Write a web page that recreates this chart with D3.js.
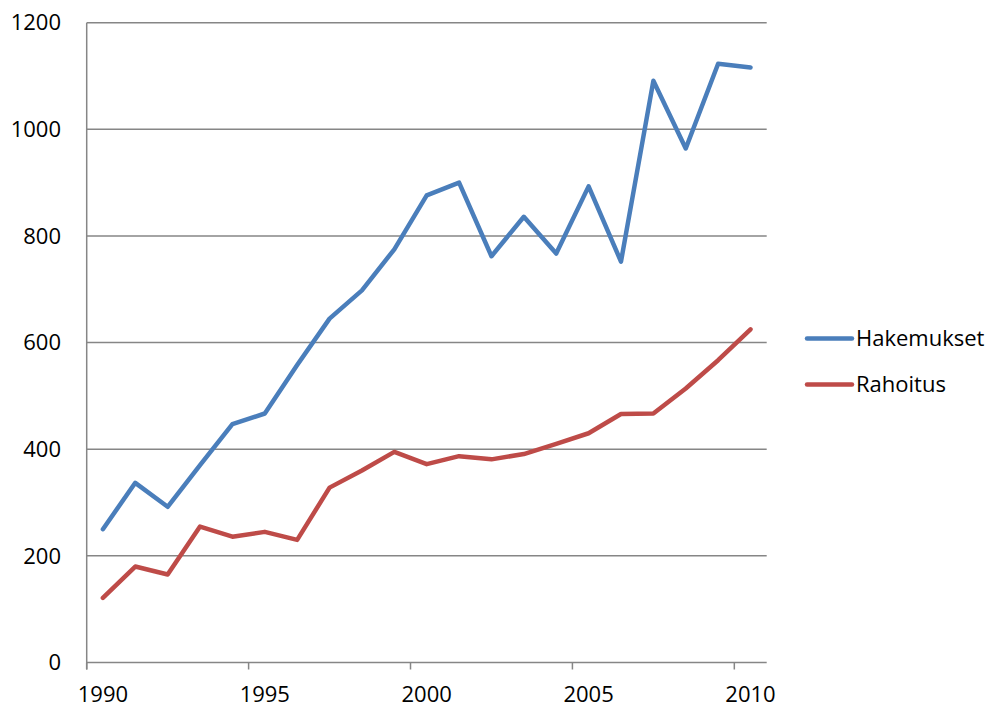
<!DOCTYPE html>
<html>
<head>
<meta charset="utf-8">
<script src="https://cdn.jsdelivr.net/npm/d3@7"></script>
<style>
  body { margin: 0; background: #fff; }
  text { font-family: "Open Sans", "Liberation Sans", sans-serif; fill: #000; }
</style>
</head>
<body>
<svg width="994" height="709"></svg>
<script>
var years = d3.range(1990, 2011);
var hakemukset = [250, 337, 292, 370, 447, 467, 558, 645, 698, 775, 876, 900, 762, 836, 767, 893, 752, 1091, 964, 1123, 1116];
var rahoitus = [121, 180, 165, 255, 236, 245, 230, 328, 360, 395, 372, 387, 381, 391, 410, 430, 466, 467, 514, 567, 625];
var yTicks = [0, 200, 400, 600, 800, 1000, 1200];
var xLabels = [1990, 1995, 2000, 2005, 2010];

var series = [
  { name: "Hakemukset", values: hakemukset, color: "#4a7ebb" },
  { name: "Rahoitus", values: rahoitus, color: "#be4b48" }
];

var svg = d3.select("svg");
var gridColor = "#868686";

var x = d3.scaleBand()
  .domain(years)
  .range([86.7, 766.7])
  .padding(0);

var y = d3.scaleLinear()
  .domain([0, 1200])
  .range([662.5, 22.7]);

var cx = function(yr) { return x(yr) + x.bandwidth() / 2; };

// horizontal gridlines
svg.append("g")
  .selectAll("line")
  .data(yTicks)
  .enter()
  .append("line")
  .attr("x1", x.range()[0])
  .attr("x2", x.range()[1])
  .attr("y1", function(d) { return y(d); })
  .attr("y2", function(d) { return y(d); })
  .attr("stroke", gridColor)
  .attr("stroke-width", 1.5);

// y axis line
svg.append("line")
  .attr("x1", x.range()[0]).attr("x2", x.range()[0])
  .attr("y1", y(1200)).attr("y2", y(0) + 7)
  .attr("stroke", gridColor)
  .attr("stroke-width", 1.5);

// y labels
svg.append("g")
  .selectAll("text")
  .data(yTicks)
  .enter()
  .append("text")
  .attr("x", 61)
  .attr("y", function(d) { return y(d); })
  .attr("dy", "0.35em")
  .attr("text-anchor", "end")
  .style("font-size", "22px")
  .text(function(d) { return d; });

// x ticks at category boundaries
svg.append("g")
  .selectAll("line")
  .data(xLabels)
  .enter()
  .append("line")
  .attr("x1", function(d) { return x(d); })
  .attr("x2", function(d) { return x(d); })
  .attr("y1", y(0))
  .attr("y2", y(0) + 7)
  .attr("stroke", gridColor)
  .attr("stroke-width", 1.5);

// x labels
svg.append("g")
  .selectAll("text")
  .data(xLabels)
  .enter()
  .append("text")
  .attr("x", function(d) { return cx(d); })
  .attr("y", 702)
  .attr("text-anchor", "middle")
  .style("font-size", "22px")
  .text(function(d) { return d; });

var line = d3.line()
  .x(function(d, i) { return cx(years[i]); })
  .y(function(d) { return y(d); });

svg.append("g")
  .selectAll("path")
  .data(series)
  .enter()
  .append("path")
  .attr("d", function(d) { return line(d.values); })
  .attr("fill", "none")
  .attr("stroke", function(d) { return d.color; })
  .attr("stroke-width", 4.5)
  .attr("stroke-linejoin", "round")
  .attr("stroke-linecap", "round");

// legend
var legend = svg.append("g")
  .selectAll("g")
  .data(series)
  .enter()
  .append("g")
  .attr("transform", function(d, i) { return "translate(807," + (338.5 + i * 46) + ")"; });

legend.append("line")
  .attr("x1", 0).attr("x2", 45)
  .attr("stroke", function(d) { return d.color; })
  .attr("stroke-width", 4.5)
  .attr("stroke-linecap", "round");

legend.append("text")
  .attr("x", 49)
  .attr("dy", "0.35em")
  .style("font-size", "22px")
  .text(function(d) { return d.name; });
</script>
</body>
</html>
